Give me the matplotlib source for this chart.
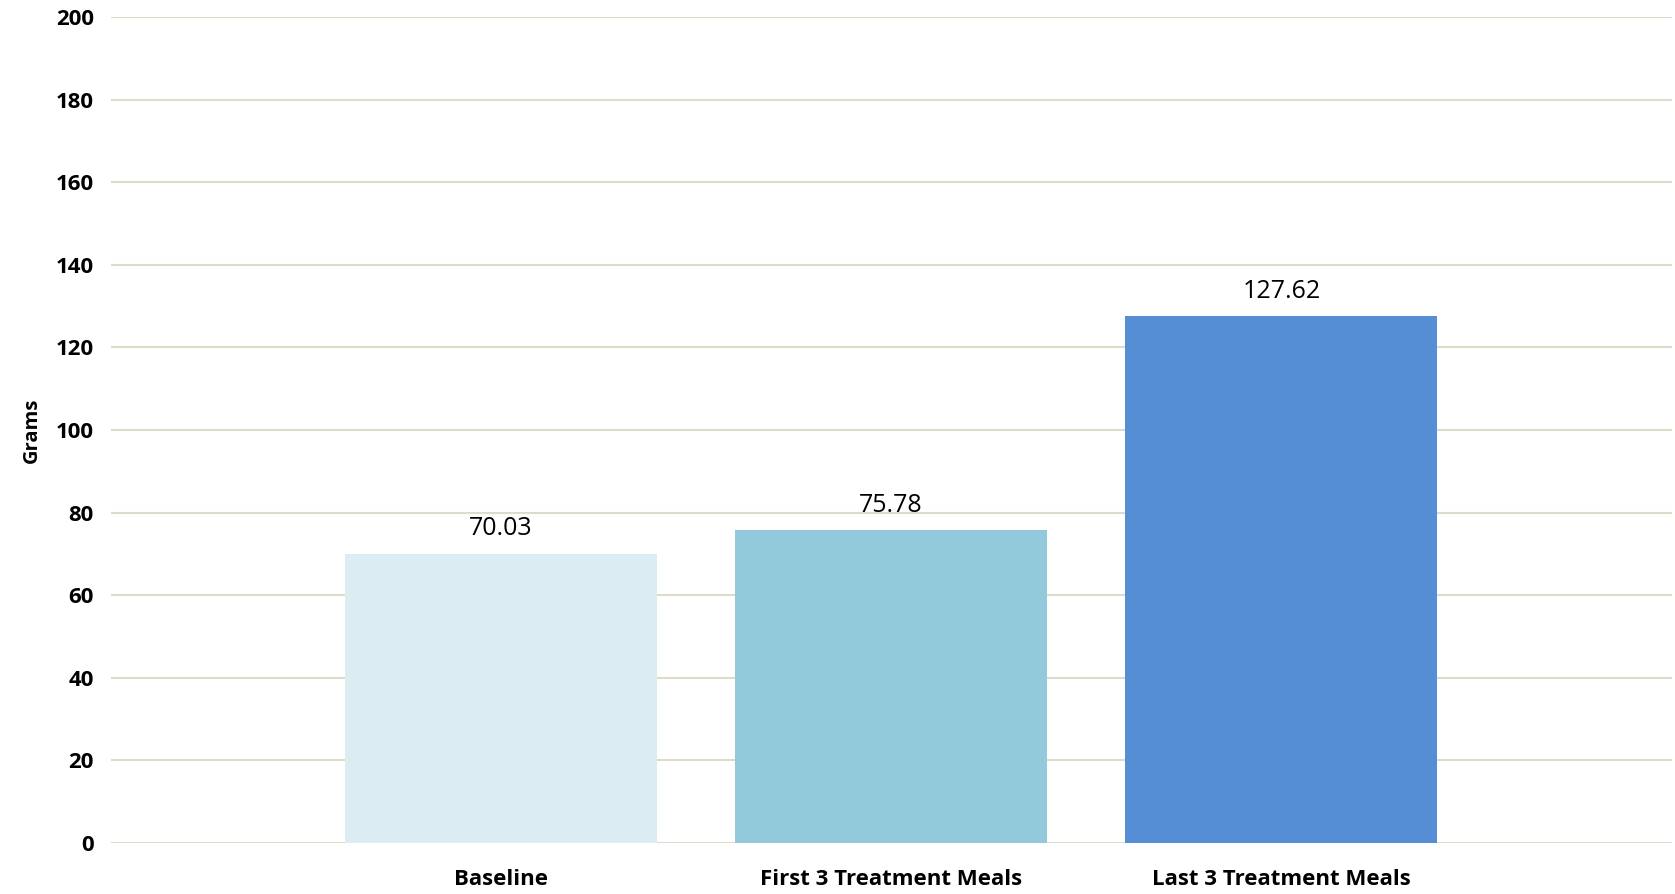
import matplotlib
matplotlib.use("Agg")
import matplotlib.pyplot as plt

categories = ["Baseline", "First 3 Treatment Meals", "Last 3 Treatment Meals"]
grams = [70.03, 75.78, 127.62]
bar_colors = ["#DBEDF3", "#93CADB", "#558ED5"]

plt.rcParams['font.family'] = ['Open Sans', 'DejaVu Sans']

fig = plt.figure(figsize=(16.75, 8.94), dpi=100)
ax = fig.add_axes([0.066, 0.057, 0.932, 0.924])

x = range(len(categories))
bars = ax.bar(x, grams, width=0.8, color=bar_colors, zorder=3)
for b, v in zip(bars, grams):
    ax.text(b.get_x() + b.get_width() / 2, v + 3, f"{v:.2f}",
            ha="center", va="bottom", fontsize=18, zorder=4)

ax.set_xlim(-1, 3)
ax.set_ylim(0, 200)
ax.set_yticks(range(0, 201, 20))
ax.set_xticks(list(x))
ax.set_xticklabels(categories, fontsize=16, fontweight="bold")
for lbl in ax.get_yticklabels():
    lbl.set_fontsize(16)
    lbl.set_fontweight("bold")
ax.tick_params(length=0, pad=12)
ax.tick_params(axis="x", pad=19)
ax.grid(axis="y", color="#DDDCC8", linewidth=1.5, zorder=0)
for s in ax.spines.values():
    s.set_visible(False)
ax.set_ylabel("Grams", fontsize=14.5, fontweight="bold", labelpad=10)

fig.savefig("out.png", dpi=100)
